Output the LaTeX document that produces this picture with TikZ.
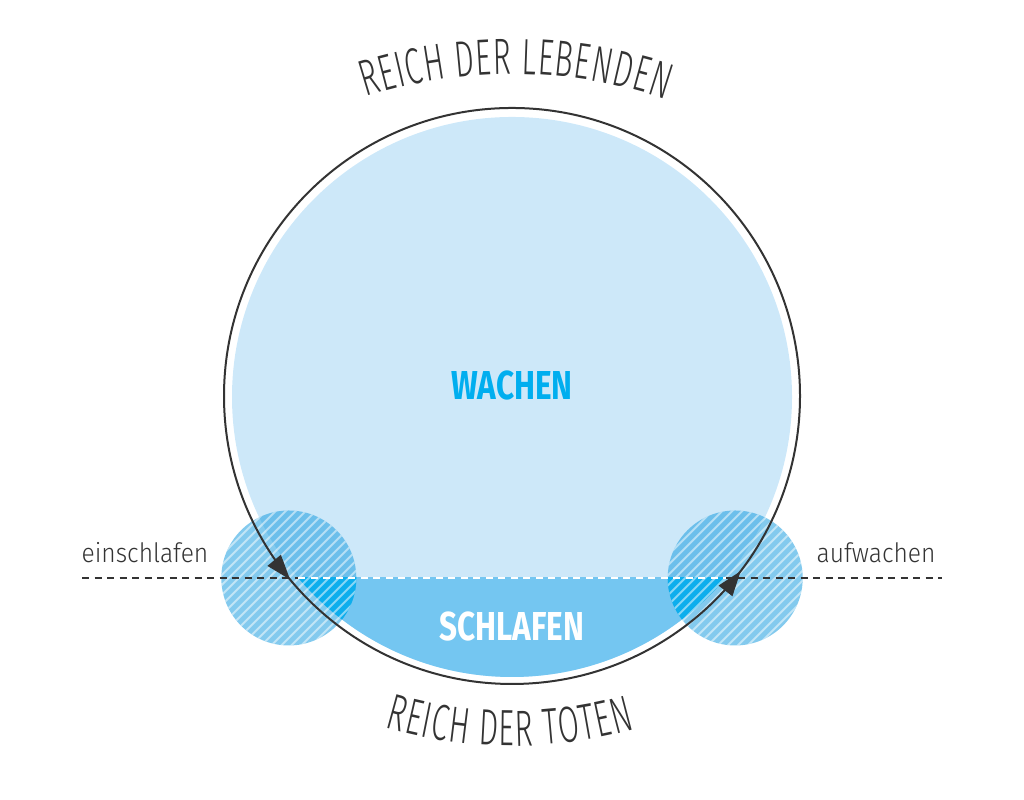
\documentclass[tikz,border=0pt]{standalone}
\usepackage{fontspec}
\setmainfont{Fira Sans}
\newfontfamily\headfont[FakeStretch=0.78]{Fira Sans}
\newfontfamily\thinfont[FakeStretch=0.6, UprightFont=* Light]{Fira Sans}
\newfontfamily\labelfont[FakeStretch=0.92, UprightFont=* Light]{Fira Sans}
\usetikzlibrary{calc,arrows.meta,decorations.markings,decorations.text}

\definecolor{wakeblue}{HTML}{CDE8F9}
\definecolor{sleepblue}{HTML}{74C6F1}
\definecolor{titleblue}{HTML}{00AEEF}
\definecolor{spotblue}{HTML}{1E9FE0}
\definecolor{ringgray}{HTML}{333333}

\newcommand{\arcfmt}{\thinfont\fontsize{14.5}{16}\selectfont}

\begin{document}
\begin{tikzpicture}[
    x=0.1mm, y=0.1mm,
    ring/.style={draw=ringgray, line width=0.2mm, postaction={decorate},
      decoration={markings,
        mark=at position 0.61 with {\arrow{Triangle[length=2.5mm,width=1.7mm]}},
        mark=at position 0.896 with {\arrow{Triangle[length=2.5mm,width=1.7mm]}}}},
    spot/.style={fill=spotblue, fill opacity=0.55},
    stripe/.style={draw=white, draw opacity=0.5, line width=0.2mm},
    divide/.style={dash pattern=on 0.7mm off 0.55mm, line width=0.15mm},
    title/.style={font=\headfont\bfseries\fontsize{11.5}{12}\selectfont},
    lbl/.style={font=\labelfont\fontsize{7.6}{9}\selectfont, text=ringgray},
    arctext/.style={decorate, decoration={text along path, text align={fit to path},
      text color=ringgray, text={|\arcfmt|#1}}},
  ]
  \useasboundingbox (0,0) rectangle (1024,800);

  % --- centres ---
  \coordinate (c) at (512,404);
  \coordinate (w) at (512,403);
  \coordinate (sl) at (288.8,222);
  \coordinate (sr) at (735.2,222);
  \coordinate (tc) at (512,246);
  \coordinate (bc) at (512,504);

  % --- wake disc and sleep segment ---
  \fill[wakeblue] (w) circle[radius=280];
  \begin{scope}
    \clip (0,0) rectangle (1024,222);
    \fill[sleepblue] (w) circle[radius=280];
  \end{scope}

  % --- hatched transition spots ---
  \foreach \s in {sl,sr} {
    \fill[spot] (\s) circle[radius=67.5];
    \begin{scope}
      \clip (\s) circle[radius=67.5];
      \clip (0,0) rectangle (1024,222);
      \fill[titleblue, fill opacity=0.8] (w) circle[radius=280];
    \end{scope}
    \begin{scope}
      \clip (\s) circle[radius=67.5];
      \foreach \k in {-10,...,10}
        \draw[stripe] ($(\s)+(\k*10-80,-80)$) -- ++(160,160);
    \end{scope}
  }

  % --- dividing line ---
  \coordinate (dl) at (82,222);
  \coordinate (dr) at (942,222);
  \coordinate (el) at (298.4,222);
  \coordinate (er) at (725.6,222);
  \draw[divide, ringgray] (dl) -- (el);
  \draw[divide, ringgray] (er) -- (dr);
  \draw[divide, white] (el) -- (er);

  % --- cycle ---
  \draw[ring] (c) circle[radius=288];

  % --- labels ---
  \node[title, text=titleblue] (wachen) at (512,414) {WACHEN};
  \node[title, text=white] (schlafen) at (512,173) {SCHLAFEN};
  \node[lbl, anchor=base] (einschlafen) at (145,237) {einschlafen};
  \node[lbl, anchor=base] (aufwachen) at (876,237) {aufwachen};

  % --- realm captions ---
  \path[arctext={REICH DER LEBENDEN}] ($(tc)+(107.8:480)$) arc[start angle=107.8, end angle=71.3, radius=480];
  \path[arctext={REICH DER TOTEN}] ($(bc)+(253.6:450)$) arc[start angle=253.6, end angle=285.9, radius=450];
\end{tikzpicture}
\end{document}
